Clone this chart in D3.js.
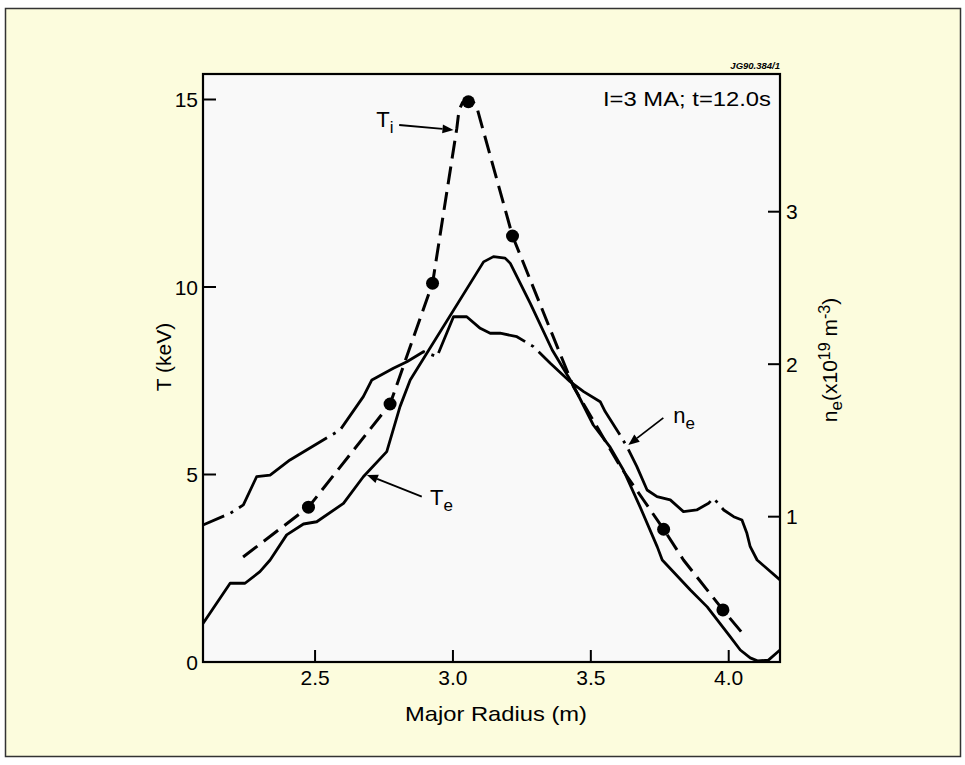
<!DOCTYPE html>
<html lang="en">
<head>
  <meta charset="UTF-8">
  <title>Temperature and density profiles vs major radius</title>
  <style>body{margin:0;padding:0;background:#fff;}svg{display:block;font-family:"Liberation Sans",Arial,sans-serif;}</style>
  <script src="https://d3js.org/d3.v7.min.js"></script>
</head>
<body>
  <div id="chart"></div>
  <script>
    // Ion temperature Ti (keV): dashed line and measured points
    const tiR = [2.239, 2.476, 2.772, 2.926, 3.014, 3.022, 3.035, 3.056, 3.075, 3.087, 3.216, 3.437, 3.607, 3.691, 3.764, 3.836, 3.979, 4.045];
    const tiT = [2.80, 4.13, 6.88, 10.10, 14.23, 14.72, 14.92, 14.96, 14.92, 14.78, 11.36, 7.34, 5.21, 4.32, 3.54, 2.72, 1.39, 0.81];
    const tiDotR = [2.476, 2.772, 2.926, 3.056, 3.216, 3.764, 3.979];
    const tiDotT = [4.13, 6.88, 10.10, 14.94, 11.36, 3.54, 1.39];

    // Electron temperature Te (keV)
    const teR = [2.0936, 2.192, 2.246, 2.300, 2.337, 2.397, 2.458, 2.506, 2.603, 2.675, 2.760, 2.808, 2.845,
      3.111, 3.147, 3.189, 3.208, 3.280, 3.360, 3.432, 3.509, 3.570, 3.618, 3.679, 3.741, 3.759, 3.861, 3.922,
      4.006, 4.042, 4.078, 4.104, 4.144, 4.186];
    const teT = [1.03, 2.10, 2.10, 2.41, 2.72, 3.39, 3.68, 3.74, 4.23, 4.94, 5.61, 6.81, 7.52,
      10.67, 10.81, 10.77, 10.63, 9.57, 8.32, 7.44, 6.32, 5.73, 5.12, 4.13, 3.07, 2.72, 1.92, 1.47,
      0.67, 0.32, 0.11, 0.03, 0.05, 0.32];

    // Electron density ne (10^19 m^-3), right axis
    const neR = [2.0936, 2.192, 2.240, 2.288, 2.337, 2.409, 2.591, 2.675, 2.706, 2.784, 2.833, 2.893, 2.942,
      3.002, 3.050, 3.099, 3.135, 3.171, 3.232, 3.292, 3.353, 3.425, 3.474, 3.534, 3.552, 3.606, 3.631, 3.667,
      3.704, 3.740, 3.788, 3.836, 3.884, 3.927, 3.945, 3.982, 4.018, 4.048, 4.066, 4.078, 4.103, 4.186];
    const neV = [0.946, 1.022, 1.077, 1.262, 1.273, 1.372, 1.569, 1.787, 1.897, 1.973, 2.016, 2.082, 2.049,
      2.311, 2.311, 2.235, 2.203, 2.203, 2.180, 2.115, 2.006, 1.885, 1.820, 1.754, 1.689, 1.536, 1.459, 1.328,
      1.175, 1.131, 1.110, 1.033, 1.044, 1.088, 1.121, 1.044, 1.000, 0.978, 0.891, 0.803, 0.716, 0.585];

    const xTicks = [2.5, 3.0, 3.5, 4.0];
    const tTicks = [0, 5, 10, 15];
    const nTicks = [1, 2, 3];

    const W = 965, H = 765;
    const margin = { top: 74, right: 185, bottom: 103, left: 203 };
    const w = W - margin.left - margin.right;
    const h = H - margin.top - margin.bottom;

    const svg = d3.select("#chart").append("svg")
      .attr("width", W)
      .attr("height", H);

    // page background and outer border
    svg.append("rect").attr("x", 0).attr("y", 0).attr("width", W).attr("height", H).attr("fill", "#ffffff");
    svg.append("rect")
      .attr("x", 5.5).attr("y", 8.5).attr("width", 955).attr("height", 748)
      .attr("fill", "#fcfcdd").attr("stroke", "#333").attr("stroke-width", 1.5);

    const x = d3.scaleLinear().domain([2.0936, 4.186]).range([0, w]);
    const yT = d3.scaleLinear().domain([0, 15.68]).range([h, 0]);
    const yN = d3.scaleLinear().domain([0.047, 3.903]).range([h, 0]);

    const g = svg.append("g").attr("transform", `translate(${margin.left},${margin.top})`);

    g.append("rect").attr("width", w).attr("height", h).attr("fill", "#f9f9f9");

    const clip = svg.append("defs").append("clipPath").attr("id", "plotclip");
    clip.append("rect").attr("width", w).attr("height", h);

    const plot = g.append("g").attr("clip-path", "url(#plotclip)");

    // ne: long dash-dot line
    const neLine = d3.line().x((d, i) => x(neR[i])).y((d, i) => yN(neV[i]));
    plot.append("path")
      .attr("d", neLine(neV))
      .attr("fill", "none")
      .attr("stroke", "#000")
      .attr("stroke-width", 2.8)
      .attr("stroke-linejoin", "round")
      .attr("stroke-dasharray", "118,7,3,7")
      .attr("stroke-dashoffset", -40);

    // Te: solid line
    const teLine = d3.line().x((d, i) => x(teR[i])).y((d, i) => yT(teT[i]));
    plot.append("path")
      .attr("d", teLine(teT))
      .attr("fill", "none")
      .attr("stroke", "#000")
      .attr("stroke-width", 2.8)
      .attr("stroke-linejoin", "round");

    // Ti: dashed line with points
    const tiLine = d3.line().x((d, i) => x(tiR[i])).y((d, i) => yT(tiT[i]));
    plot.append("path")
      .attr("d", tiLine(tiT))
      .attr("fill", "none")
      .attr("stroke", "#000")
      .attr("stroke-width", 3)
      .attr("stroke-linejoin", "round")
      .attr("stroke-dasharray", "18,8");

    plot.selectAll("circle.ti")
      .data(tiDotT)
      .join("circle")
      .attr("class", "ti")
      .attr("cx", (d, i) => x(tiDotR[i]))
      .attr("cy", d => yT(d))
      .attr("r", 6.5)
      .attr("fill", "#000");

    // frame
    g.append("rect").attr("width", w).attr("height", h)
      .attr("fill", "none").attr("stroke", "#000").attr("stroke-width", 2.2);

    const tickFont = 21;

    // bottom axis: inward ticks
    const xAxis = g.append("g").attr("transform", `translate(0,${h})`);
    xAxis.selectAll("line").data(xTicks).join("line")
      .attr("x1", d => x(d)).attr("x2", d => x(d))
      .attr("y1", 0).attr("y2", -12)
      .attr("stroke", "#000").attr("stroke-width", 2);
    xAxis.selectAll("text").data(xTicks).join("text")
      .attr("x", d => x(d)).attr("y", 23)
      .attr("text-anchor", "middle")
      .attr("font-size", tickFont)
      .text(d => d.toFixed(1));

    // left axis
    const lAxis = g.append("g");
    lAxis.selectAll("line").data(tTicks.filter(d => d > 0)).join("line")
      .attr("x1", 0).attr("x2", 13)
      .attr("y1", d => yT(d)).attr("y2", d => yT(d))
      .attr("stroke", "#000").attr("stroke-width", 2);
    lAxis.selectAll("text").data(tTicks).join("text")
      .attr("x", -5).attr("y", d => yT(d))
      .attr("dy", "0.36em")
      .attr("text-anchor", "end")
      .attr("font-size", tickFont)
      .text(d => d);

    // right axis
    const rAxis = g.append("g").attr("transform", `translate(${w},0)`);
    rAxis.selectAll("line").data(nTicks).join("line")
      .attr("x1", 0).attr("x2", -12)
      .attr("y1", d => yN(d)).attr("y2", d => yN(d))
      .attr("stroke", "#000").attr("stroke-width", 2);
    rAxis.selectAll("text").data(nTicks).join("text")
      .attr("x", 6).attr("y", d => yN(d))
      .attr("dy", "0.36em")
      .attr("font-size", tickFont)
      .text(d => d);

    // axis titles
    svg.append("text")
      .attr("x", 496).attr("y", 721)
      .attr("text-anchor", "middle")
      .attr("font-size", 21)
      .attr("textLength", 182).attr("lengthAdjust", "spacingAndGlyphs")
      .text("Major Radius (m)");

    svg.append("text")
      .attr("transform", "translate(171,357) rotate(-90)")
      .attr("text-anchor", "middle")
      .attr("font-size", 21)
      .text("T (keV)");

    const rt = svg.append("text")
      .attr("transform", "translate(837,360) rotate(-90)")
      .attr("text-anchor", "middle")
      .attr("font-size", 21);
    rt.append("tspan").text("n");
    rt.append("tspan").attr("dy", 5).attr("font-size", 17).text("e");
    rt.append("tspan").attr("dy", -5).text("(x10");
    rt.append("tspan").attr("dy", -7).attr("font-size", 16).text("19");
    rt.append("tspan").attr("dy", 7).text(" m");
    rt.append("tspan").attr("dy", -7).attr("font-size", 16).text("-3");
    rt.append("tspan").attr("dy", 7).text(")");

    // header text
    svg.append("text")
      .attr("x", 771).attr("y", 106)
      .attr("text-anchor", "end")
      .attr("font-size", 21)
      .attr("textLength", 168).attr("lengthAdjust", "spacingAndGlyphs")
      .text("I=3 MA; t=12.0s");

    svg.append("text")
      .attr("x", 780).attr("y", 69)
      .attr("text-anchor", "end")
      .attr("font-size", 9.5)
      .attr("font-weight", "bold")
      .attr("font-style", "italic")
      .text("JG90.384/1");

    // curve labels with arrows
    const arrows = [
      { from: [2.805, 14.32], to: [3.002, 14.19] },
      { from: [2.887, 4.41], to: [2.688, 4.99] },
      { from: [3.763, 6.51], to: [3.636, 5.79] }
    ];
    const labels = [
      { at: [2.722, 14.28], main: "T", sub: "i" },
      { at: [2.917, 4.19], main: "T", sub: "e" },
      { at: [3.799, 6.37], main: "n", sub: "e" }
    ];

    arrows.forEach(a => {
      const x1 = x(a.from[0]), y1 = yT(a.from[1]);
      const x2 = x(a.to[0]), y2 = yT(a.to[1]);
      const ang = Math.atan2(y2 - y1, x2 - x1);
      const len = 11, half = 4.5;
      const bx = x2 - len * Math.cos(ang), by = y2 - len * Math.sin(ang);
      g.append("line")
        .attr("x1", x1).attr("y1", y1).attr("x2", bx).attr("y2", by)
        .attr("stroke", "#000").attr("stroke-width", 1.8);
      g.append("path")
        .attr("d", `M${x2},${y2}L${bx - half * Math.sin(ang)},${by + half * Math.cos(ang)}L${bx + half * Math.sin(ang)},${by - half * Math.cos(ang)}Z`)
        .attr("fill", "#000");
    });

    labels.forEach(l => {
      const t = g.append("text")
        .attr("x", x(l.at[0])).attr("y", yT(l.at[1]))
        .attr("font-size", 22);
      t.append("tspan").text(l.main);
      t.append("tspan").attr("dy", 6).attr("font-size", 17).text(l.sub);
    });
  </script>
</body>
</html>
